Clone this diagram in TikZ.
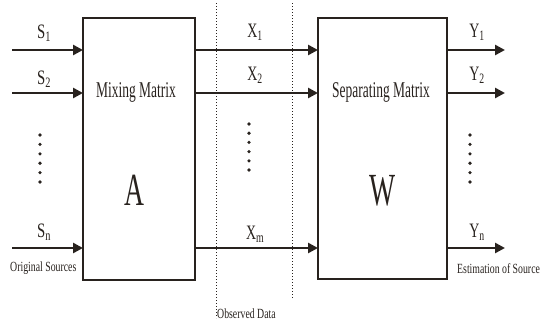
\documentclass[tikz,border=0pt]{standalone}
\usepackage{fontspec}
\setmainfont{Liberation Serif}
\usepackage{graphicx}
\usetikzlibrary{arrows.meta}
\definecolor{ink}{RGB}{40,34,30}
\newcommand\cx[2]{\scalebox{#1}[1]{#2}}
\begin{document}
\begin{tikzpicture}[x=1pt,y=-1pt,
  box/.style={draw=ink,line width=1.6pt},
  sig/.style={draw=ink,line width=2.8pt,-{Triangle[length=10pt,width=10pt]}},
  guide/.style={draw=ink,line width=1pt,dotted},
  lab/.style={text=ink,inner sep=0pt,anchor=base,font=\fontsize{20.5}{20.5}\selectfont},
  small/.style={text=ink,inner sep=0pt,anchor=base west,font=\fontsize{14}{14}\selectfont},
  big/.style={text=ink,inner sep=0pt,anchor=base,font=\fontsize{22.5}{22.5}\selectfont},
  huge/.style={text=ink,inner sep=0pt,anchor=base,font=\fontsize{46}{46}\selectfont},
  dot/.style={fill=ink,circle,inner sep=0pt,minimum size=3.6pt}]
\useasboundingbox (0,0) rectangle (542,322);
% boxes
\draw[box] (83,18) rectangle (195,280);
\draw[box] (318,18) rectangle (447,279);
\coordinate (A1) at (83,50);\coordinate (A2) at (83,93);\coordinate (An) at (83,248);
\coordinate (B1) at (195,50);\coordinate (B2) at (195,93);\coordinate (Bn) at (195,248);
\coordinate (W1) at (318,50);\coordinate (W2) at (318,93);\coordinate (Wn) at (318,248);
\coordinate (V1) at (447,50);\coordinate (V2) at (447,93);\coordinate (Vn) at (447,248);
\coordinate (s1) at (12,50);\coordinate (s2) at (12,93);\coordinate (sn) at (12,248);
\coordinate (y1) at (505,50);\coordinate (y2) at (505,93);\coordinate (yn) at (505,248);
% dotted guides
\coordinate (g1t) at (216,3);\coordinate (g1b) at (216,318);
\coordinate (g2t) at (292,3);\coordinate (g2b) at (292,298);
\draw[guide] (g1t) -- (g1b);
\draw[guide] (g2t) -- (g2b);
% arrows
\draw[sig] (s1) -- (A1);\draw[sig] (s2) -- (A2);\draw[sig] (sn) -- (An);
\draw[sig] (B1) -- (W1);\draw[sig] (B2) -- (W2);\draw[sig] (Bn) -- (Wn);
\draw[sig] (V1) -- (y1);\draw[sig] (V2) -- (y2);\draw[sig] (Vn) -- (yn);
% labels
\node[lab] (ls1) at (44,38) {\cx{0.72}{S\textsubscript{1}}};
\node[lab] (ls2) at (44,84) {\cx{0.72}{S\textsubscript{2}}};
\node[lab] (lsn) at (44,237) {\cx{0.72}{S\textsubscript{n}}};
\node[lab] (lx1) at (255,37) {\cx{0.68}{X\textsubscript{1}}};
\node[lab] (lx2) at (255,80) {\cx{0.68}{X\textsubscript{2}}};
\node[lab] (lxm) at (255,239) {\cx{0.68}{X\textsubscript{m}}};
\node[lab] (ly1) at (477,37) {\cx{0.68}{Y\textsubscript{1}}};
\node[lab] (ly2) at (477,80) {\cx{0.68}{Y\textsubscript{2}}};
\node[lab] (lyn) at (477,237) {\cx{0.68}{Y\textsubscript{n}}};
\node[big] (mix) at (136,97) {\cx{0.6}{Mixing Matrix}};
\node[big] (sep) at (381,97) {\cx{0.6}{Separating Matrix}};
\node[huge] (la) at (134,205) {\cx{0.6}{A}};
\node[huge] (lw) at (383,205) {\cx{0.6}{W}};
\node[small] (orig) at (10,271) {\cx{0.7}{Original Sources}};
\node[small] (obs) at (217,318) {\cx{0.7}{Observed Data}};
\node[small] (est) at (457,273) {\cx{0.7}{Estimation of Source}};
% vertical ellipses
\foreach \i in {0,...,5} {
  \node[dot] (ds\i) at (40,135+9.4*\i) {};
  \node[dot] (dx\i) at (249,124+9.2*\i) {};
  \node[dot] (dy\i) at (470,135+9.4*\i) {};
}
\end{tikzpicture}
\end{document}
